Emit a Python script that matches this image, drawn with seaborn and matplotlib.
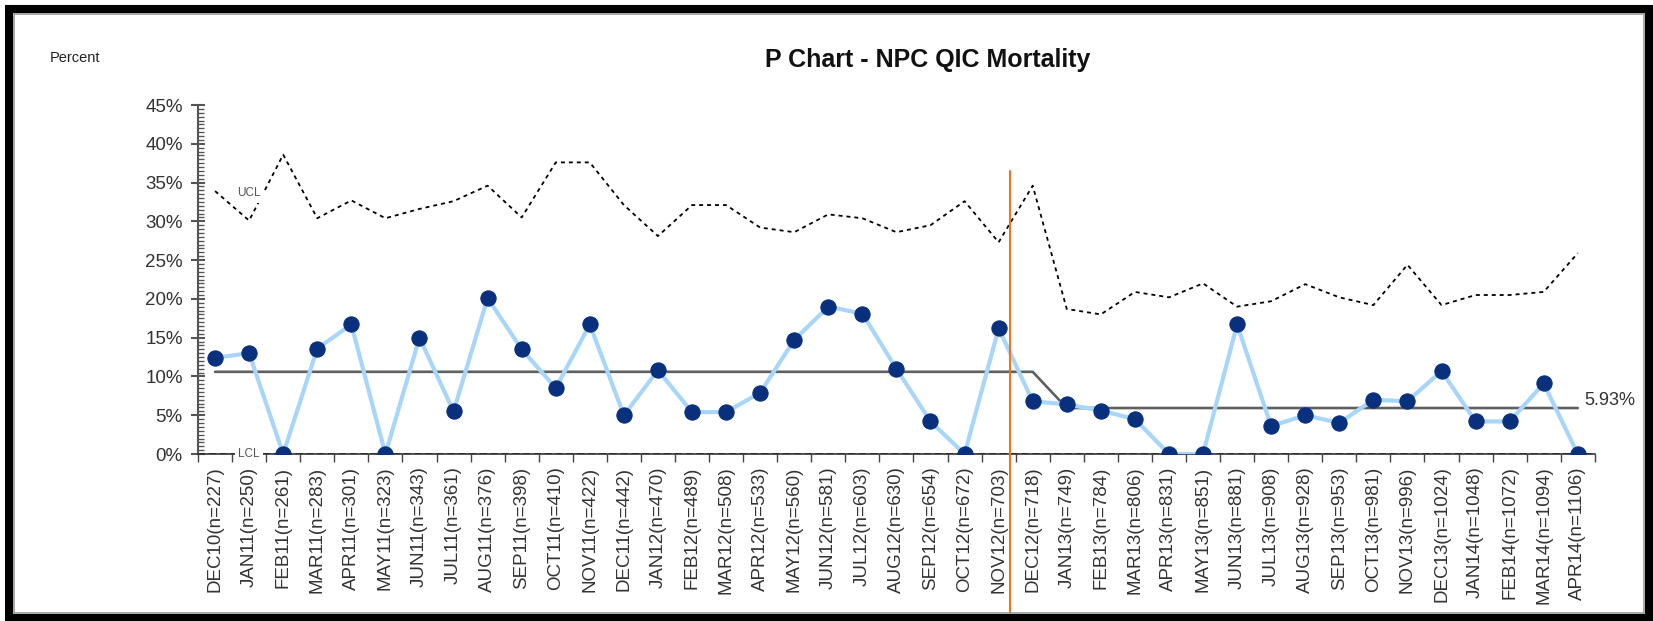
import numpy as np
import pandas as pd
import matplotlib
matplotlib.use("Agg")
import matplotlib.pyplot as plt
import seaborn as sns
from matplotlib.patches import Rectangle
from matplotlib.ticker import MultipleLocator, FuncFormatter

# monthly labels and sample sizes
months = ["DEC10", "JAN11", "FEB11", "MAR11", "APR11", "MAY11", "JUN11", "JUL11",
          "AUG11", "SEP11", "OCT11", "NOV11", "DEC11", "JAN12", "FEB12", "MAR12",
          "APR12", "MAY12", "JUN12", "JUL12", "AUG12", "SEP12", "OCT12", "NOV12",
          "DEC12", "JAN13", "FEB13", "MAR13", "APR13", "MAY13", "JUN13", "JUL13",
          "AUG13", "SEP13", "OCT13", "NOV13", "DEC13", "JAN14", "FEB14", "MAR14",
          "APR14"]
n_sizes = [227, 250, 261, 283, 301, 323, 343, 361, 376, 398, 410, 422, 442, 470,
           489, 508, 533, 560, 581, 603, 630, 654, 672, 703, 718, 749, 784, 806,
           831, 851, 881, 908, 928, 953, 981, 996, 1024, 1048, 1072, 1094, 1106]

# mortality percent per month
pct = [12.4, 13.0, 0.0, 13.6, 16.7, 0.0, 15.0, 5.5, 20.1, 13.5, 8.5, 16.7, 5.0,
       10.8, 5.4, 5.4, 7.9, 14.7, 19.0, 18.1, 11.0, 4.2, 0.0, 16.2, 6.8, 6.4,
       5.6, 4.5, 0.0, 0.0, 16.7, 3.6, 5.0, 4.0, 7.0, 6.8, 10.7, 4.2, 4.2, 9.1, 0.0]

# upper control limit
ucl = [33.9, 30.1, 38.6, 30.4, 32.7, 30.4, 31.6, 32.6, 34.6, 30.5, 37.6, 37.6,
       32.1, 28.1, 32.1, 32.1, 29.2, 28.6, 30.9, 30.4, 28.6, 29.5, 32.6, 27.3,
       34.6, 18.7, 18.0, 20.9, 20.2, 22.0, 19.0, 19.7, 21.9, 20.2, 19.2, 24.4,
       19.2, 20.5, 20.5, 20.9, 25.9]

# centre line: baseline then recalculated
cl = [10.6] * 25 + [5.93] * 16
lcl = [0.0] * 41

labels = [f"{m}(n={n})" for m, n in zip(months, n_sizes)]
df = pd.DataFrame({"idx": np.arange(len(labels)), "pct": pct, "ucl": ucl,
                   "cl": cl, "lcl": lcl})

sns.set_theme(style="white")
plt.rcParams["font.family"] = ["Liberation Sans", "DejaVu Sans"]

fig = plt.figure(figsize=(16.53, 6.21), dpi=100)
ax = fig.add_axes([0.1198, 0.2689, 0.845, 0.562])

# control limits and centre line
sns.lineplot(data=df, x="idx", y="ucl", ax=ax, color="black", lw=1.3,
             linestyle=(0, (2.2, 2.2)), zorder=2)
sns.lineplot(data=df, x="idx", y="cl", ax=ax, color="#5f5f5f", lw=1.9, zorder=2)
ax.axhline(0, color="black", lw=1.3, ls=(0, (4, 2)), zorder=2)

# data series
sns.lineplot(data=df, x="idx", y="pct", ax=ax, color="#A8D5FA", lw=3,
             marker="o", markersize=11, markerfacecolor="#08307C",
             markeredgecolor="#08307C", zorder=4)

# phase change line
ax.axvline(23.33, ymin=-0.465, ymax=0.81, color="#EE7422", lw=1.5,
           clip_on=False, zorder=5)

ax.text(1.0, 33.6, "UCL", fontsize=8.5, color="#555555", ha="center", va="center",
        bbox=dict(facecolor="white", edgecolor="none", pad=2.5), zorder=3)
ax.text(1.0, 0.0, "LCL", fontsize=8.5, color="#555555", ha="center", va="center",
        bbox=dict(facecolor="white", edgecolor="none", pad=2.5), zorder=3)
ax.text(40.2, 6.9, "5.93%", fontsize=13, color="#333333", ha="left", va="center")

ax.set_xlim(-0.5, 40.5)
ax.set_ylim(0, 45)
ax.set_xlabel("")
ax.set_ylabel("")

ax.set_xticks(df["idx"])
ax.set_xticklabels(labels, rotation=90, fontsize=13.5, color="#333333")
ax.set_xticks(np.arange(-0.5, 41, 1), minor=True)
ax.tick_params(axis="x", which="major", length=0, pad=9)
ax.tick_params(axis="x", which="minor", bottom=True, length=6, width=1,
               color="#444444", direction="out")

ax.yaxis.set_major_locator(MultipleLocator(5))
ax.yaxis.set_minor_locator(MultipleLocator(0.5))
ax.yaxis.set_major_formatter(FuncFormatter(lambda v, p: f"{v:.0f}%"))
ax.tick_params(axis="y", which="major", left=True, length=10, width=1.5,
               direction="inout", labelsize=13.5, labelcolor="#333333",
               color="#555555", pad=6)
ax.tick_params(axis="y", which="minor", left=True, length=4, width=1,
               direction="in", color="#555555")

for side in ["top", "right"]:
    ax.spines[side].set_visible(False)
ax.spines["left"].set_color("#555555")
ax.spines["left"].set_linewidth(1.5)
ax.spines["bottom"].set_color("#333333")
ax.spines["bottom"].set_linewidth(1.2)

fig.text(0.561, 0.903, "P Chart - NPC QIC Mortality", fontsize=18,
         fontweight="bold", ha="center", va="center", color="#111111")
fig.text(0.030, 0.907, "Percent", fontsize=10.5, ha="left", va="center",
         color="#222222")

# outer frame (black band, thin grey inner line)
W, H = 1653, 621
fig.patches.append(Rectangle((9 / W, 3 / H), (1649 - 9) / W, (612 - 3) / H,
                             transform=fig.transFigure, fill=False,
                             edgecolor="black", lw=5.8))
fig.patches.append(Rectangle((14 / W, 8 / H), 1630 / W, 599 / H,
                             transform=fig.transFigure, fill=False,
                             edgecolor="#999999", lw=1.2))

fig.savefig("out.png", dpi=100)
